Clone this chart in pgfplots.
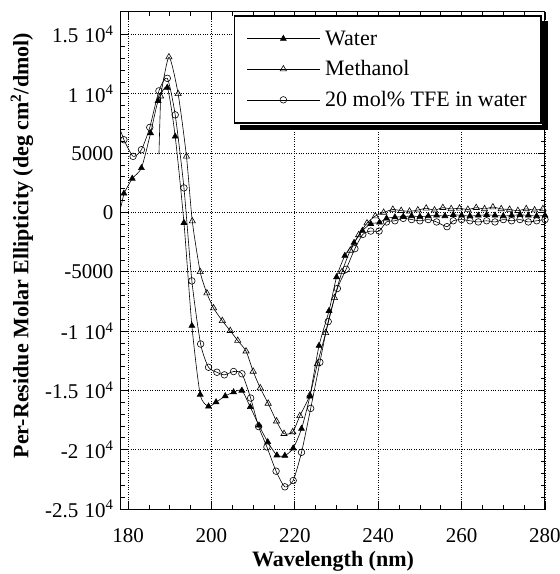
\documentclass[border=0pt]{standalone}
\usepackage{fontspec}
\setmainfont{Liberation Serif}
\usepackage{pgfplots}
\pgfplotsset{compat=1.18}
\newcommand{\tfour}[1]{#1\hspace{0.3em}10\textsuperscript{4}}
\begin{document}
\begin{tikzpicture}
\begin{axis}[
  scale only axis, width=424pt, height=497pt,
  xmin=178.3, xmax=280, ymin=-25000, ymax=16900,
  xtick={180,200,220,240,260,280},
  xticklabels={180,200,220,240,260,280},
  ytick={-25000,-20000,-15000,-10000,-5000,0,5000,10000,15000},
  yticklabels={\tfour{-2.5},\tfour{-2},\tfour{-1.5},\tfour{-1},-5000,0,5000,\tfour{1},\tfour{1.5}},
  minor x tick num=3, minor y tick num=4,
  tick align=inside, major tick length=7pt, minor tick length=4pt,
  xtick pos=both, ytick pos=both,
  grid=major, major grid style={dotted, black, line width=0.7pt},
  tick style={black, line width=0.8pt},
  axis line style={line width=1pt},
  tick label style={font=\fontsize{21}{25}\selectfont},
  yticklabel style={xshift=-4pt},
  xticklabel style={yshift=-16pt},
  xlabel={Wavelength (nm)},
  ylabel={Per-Residue Molar Ellipticity (deg cm\textsuperscript{2}/dmol)},
  label style={font=\fontsize{22}{26}\selectfont\bfseries},
  xlabel style={at={(axis description cs:0.5,-0.106)}, anchor=center},
  ylabel style={at={(axis description cs:-0.2335,0.53)}, anchor=center},
  legend style={at={(0.992,0.994)}, anchor=north east, draw=black, line width=1.6pt, fill=white,
    font=\fontsize{22}{26}\selectfont, row sep=10pt, inner xsep=12pt, inner ysep=13pt,
    append after command={\pgfextra{%
      \fill[black] ([shift={(6pt,-6pt)}]\tikzlastnode.south west) rectangle ([shift={(6pt,-0.8pt)}]\tikzlastnode.south east);
      \fill[black] ([shift={(0.8pt,-6pt)}]\tikzlastnode.south east) rectangle ([shift={(6pt,-6pt)}]\tikzlastnode.north east);}}},
  legend cell align=left,
  legend image code/.code={\draw[#1, mark repeat=2, mark phase=2] plot coordinates {(0pt,0pt) (36.5pt,0pt) (73pt,0pt)};\path (76pt,0pt);},
]
% Water
\addplot[black, line width=0.6pt, smooth, tension=0.4, mark=triangle*, mark size=3.4pt, mark options={solid, fill=black}] coordinates {
(179.0,1600)(181.0,2860)(183.2,3750)(185.4,6690)(187.2,9410)(189.4,10530)(191.3,6410)(193.4,-870)
(195.3,-9550)(197.3,-15350)(199.3,-16350)(201.1,-15990)(203.3,-15480)(205.3,-15150)(207.3,-15010)
(209.3,-16400)(211.4,-17950)(213.5,-19350)(215.7,-20470)(217.6,-20500)(219.6,-19880)(221.6,-18230)
(223.6,-15500)(225.8,-11230)(228.2,-8290)(230.0,-5450)(232.0,-3640)(234.2,-2550)(236.2,-1540)
(238.2,-960)(240.3,-840)(242,-500)(244,-400)(246,-350)(248,-300)(250,-350)(252,-300)(254,-250)
(256,-300)(258,-200)(260,-250)(262,-300)(264,-250)(266,-200)(268,-250)(270,-300)(272,-250)
(274,-200)(276,-250)(278,-300)(280,-250)};
\addlegendentry{Water}
% Methanol
\addplot[black, line width=0.6pt, smooth, tension=0.4, mark=triangle, mark size=3.6pt, mark options={solid, fill=white}] coordinates {
(187.8,9800)(189.8,13100)(192.0,10000)(194.0,4730)(195.4,-730)(197.3,-5010)(198.9,-6800)(200.5,-8060)
(202.6,-9130)(204.5,-9970)(206.3,-10800)(208.3,-11700)(210.0,-13400)(211.7,-14800)(213.6,-16100)
(215.6,-17600)(217.4,-18650)(219.5,-18500)(221.2,-17150)(223.6,-15400)(225.4,-12770)(227.4,-10150)
(229.5,-7200)(231.3,-5000)(233.3,-3200)(235.3,-1900)(237.3,-900)(239.3,-300)(241.3,0)
(243.5,250)(245.5,150)(247.5,100)(249.5,200)(251.5,350)(253.5,200)(255.5,400)(257.5,300)(259.5,350)
(261.5,250)(263.5,400)(265.5,300)(267.5,450)(269.5,300)(271.5,250)(273.5,150)(275.5,300)(277.5,200)(279.5,300)};
\addlegendentry{Methanol}
% TFE
\addplot[black, line width=0.6pt, smooth, tension=0.4, mark=o, mark size=3.3pt, mark options={solid, fill=white}] coordinates {
(179.0,6130)(181.2,4730)(183.2,5290)(185.2,7170)(187.4,10250)(189.4,11310)(191.3,8230)(193.4,2070)
(195.3,-5770)(197.4,-11090)(199.3,-13050)(201.3,-13470)(203.1,-13690)(205.3,-13410)(207.3,-13600)
(209.4,-15650)(211.3,-18050)(213.3,-19770)(215.5,-21810)(217.6,-23130)(219.6,-22600)(221.6,-20220)
(223.8,-16520)(226.0,-12630)(228.0,-9200)(230.2,-6410)(232.3,-4790)(234.4,-3050)(236.3,-1850)
(238.2,-1570)(240.2,-1570)(242,-800)(244,-700)(246,-500)(248,-600)(250,-700)(252,-600)(254,-800)
(256.5,-1200)(258,-700)(260,-600)(262,-700)(264,-800)(266,-700)(268,-800)(270,-600)(272,-700)
(274,-600)(276,-800)(278,-700)(280,-600)};
\addlegendentry{20 mol\% TFE in water}
% unmarked leading segments
\addplot[black, line width=0.6pt, no marks, forget plot] coordinates {(178.3,500)(179.0,1600)};
\addplot[black, line width=0.6pt, no marks, forget plot] coordinates {(178.3,6800)(179.0,6130)};
\addplot[black, line width=0.6pt, no marks, forget plot] coordinates {(187.4,4900)(187.8,9800)};
\end{axis}
\pgfresetboundingbox
\path[use as bounding box] ([shift={(-121pt,-65pt)}]current axis.south west) rectangle ([shift={(15pt,12pt)}]current axis.north east);
\end{tikzpicture}
\end{document}
